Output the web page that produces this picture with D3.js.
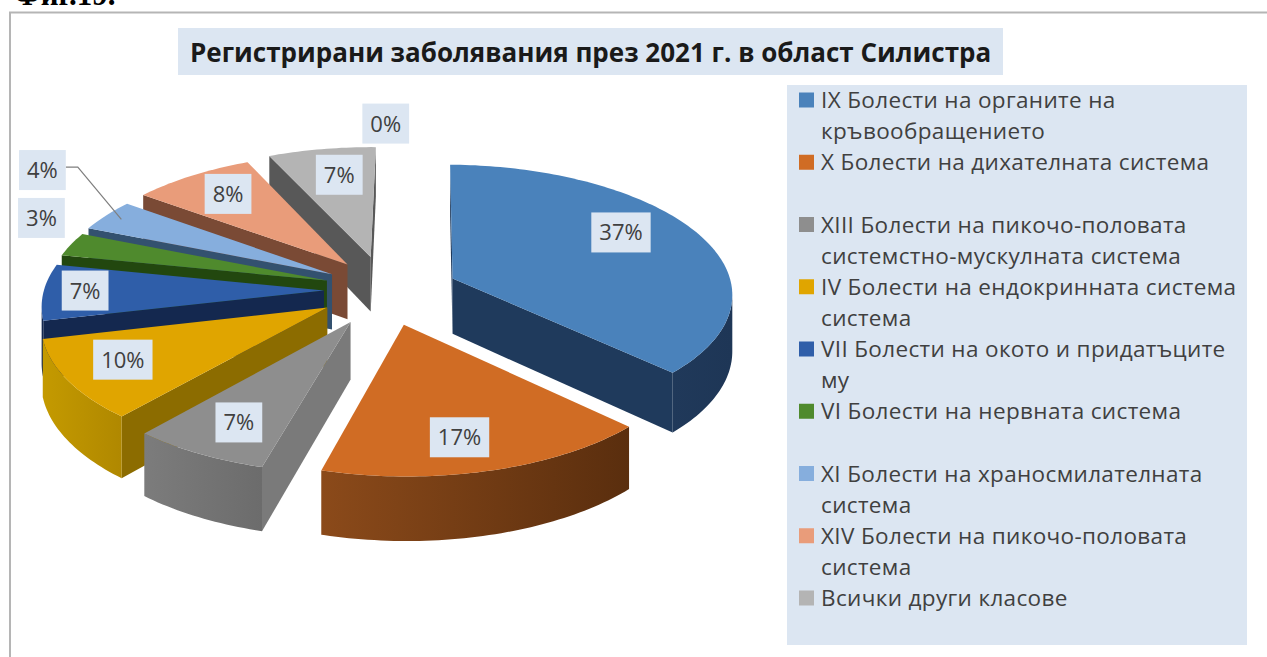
<!DOCTYPE html>
<html lang="bg">
<head>
<meta charset="utf-8">
<script src="https://cdn.jsdelivr.net/npm/d3@7"></script>
<style>
  html, body { margin: 0; padding: 0; background: #fff; overflow: hidden; }
  svg { display: block; }
  text { font-family: "Open Sans", "Noto Sans", sans-serif; }
</style>
</head>
<body>
<svg id="chart" width="1267" height="657"></svg>
<script>
// Disease classes and their share of registrations, in percent
const percents = [37, 17, 7, 10, 7, 3, 4, 8, 7, 0];
const legendLines = [
  ["IX Болести на органите на", "кръвообращението"],
  ["X Болести на дихателната система", ""],
  ["XIII Болести на пикочо-половата", "системстно-мускулната система"],
  ["IV Болести на ендокринната система", "система"],
  ["VII Болести на окото и придатъците", "му"],
  ["VI Болести на нервната система", ""],
  ["XI Болести на храносмилателната", "система"],
  ["XIV Болести на пикочо-половата", "система"],
  ["Всички други класове"]
];
const figureCaption = "Фиг.19.";
const chartTitle = "Регистрирани заболявания през 2021 г. в област Силистра";

// Face colours for each slice
const topColors = ["#4a82bb", "#d06c24", "#8e8e8e", "#e0a500", "#2f5ea9", "#4f8a2d", "#86aedd", "#e99c7a", "#b4b4b4", "#b4b4b4"];
const rimLeft = ["#20395a", "#8b4a1a", "#7c7c7c", "#c49a00", "#14284f", "#22470f", "#33516f", "#7a4a35", "#585858", "#585858"];
const rimRight = ["#1e3656", "#5a2e0e", "#6c6c6c", "#b08800", "#14284f", "#22470f", "#33516f", "#7a4a35", "#585858", "#585858"];
const wallColors = ["#1f3a5c", "#713a12", "#7a7a7a", "#8c6c00", "#14284f", "#22470f", "#33516f", "#7a4a35", "#585858", "#585858"];

// How far each slice is pulled out of the pie, sideways and in depth
const pullSide = [0.283, 0.316, 0.218, 0.217, 0.2, 0.2, 0.2, 0.19, 0.17, 0.1];
const pullDepth = [0.24, 0.273, 0.276, 0.26, 0.25, 0.25, 0.25, 0.26, 0.27, 0.27];

// Label placement: fraction of the radius plus a fine nudge in pixels
const labelRadius = [0.62, 0.62, 0.62, 0.62, 0.62, 0.62, 0.62, 0.62, 0.62, 1.0];
const labelNudge = [[15,-17],[4,26],[-21,22],[-47,8],[-65,-1],[-125,-40],[-147,-67],[-20,-14],[0,-13],[1,-23]];

const svg = d3.select("#chart");
const defs = svg.append("defs");

// Chart frame
svg.append("path").attr("d", "M10,657V12.5H1267").attr("fill", "none").attr("stroke", "#b5b5b5").attr("stroke-width", 2);
svg.append("text").attr("x", 14).attr("y", 5).attr("font-size", 31).attr("font-weight", 700)
  .style("font-family", "'Liberation Serif', serif").attr("fill", "#000").text(figureCaption);

// Title with its tinted plate
svg.append("rect").attr("x", 178).attr("y", 28).attr("width", 825).attr("height", 47).attr("fill", "#dce6f2");
svg.append("text").attr("x", 190).attr("y", 62).attr("font-size", 26).attr("font-weight", 700)
  .attr("fill", "#1a1a1a").text(chartTitle);

// Perspective projection of the pie plane; Z runs 0 (top) to 1 (base)
const center = [380, 290], radiusX = 280, radiusY = 128, lens = 0.105, thickness = 56;
function project(X, Y, Z) {
  const s = 1 / (1 - lens * Y);
  return [center[0] + radiusX * X * s, center[1] + radiusY * Y * s + thickness * Z * s];
}

const firstAngle = 1 * Math.PI / 180;
const arcs = d3.pie().sort(null).startAngle(firstAngle).endAngle(firstAngle + 2 * Math.PI).value(d => d)(percents);
const slices = arcs.map((a, i) => {
  const mid = (a.startAngle + a.endAngle) / 2;
  const ex = pullSide[i] * Math.sin(mid), ey = -pullDepth[i] * Math.cos(mid);
  const at = (angle, r, Z) => project(ex + r * Math.sin(angle), ey - r * Math.cos(angle), Z);
  return { a, i, mid, at };
});

const polygon = d3.line();
const pieLayer = svg.append("g");
const painted = slices.filter(s => s.a.endAngle > s.a.startAngle)
  .sort((p, q) => Math.cos(q.mid) - Math.cos(p.mid));

painted.forEach(s => {
  const { a, i, at } = s;
  const angles = d3.range(a.startAngle, a.endAngle, 0.02).concat(a.endAngle);
  const g = pieLayer.append("g");
  const apexTop = at(0, 0, 0), apexBase = at(0, 0, 1);

  // Radial walls, kept only when they turn towards the viewer
  const startTop = at(a.startAngle, 1, 0), endTop = at(a.endAngle, 1, 0);
  if (endTop[0] > apexTop[0]) {
    g.append("path").attr("d", polygon([endTop, apexTop, apexBase, at(a.endAngle, 1, 1)]) + "Z").attr("fill", wallColors[i]);
  }
  if (startTop[0] < apexTop[0]) {
    g.append("path").attr("d", polygon([apexTop, startTop, at(a.startAngle, 1, 1), apexBase]) + "Z").attr("fill", wallColors[i]);
  }

  // Outer rim: only the stretch facing the viewer, shaded left to right
  const facing = angles.filter((t, k) => {
    const next = angles[k + 1], prev = angles[k - 1];
    if (next !== undefined && at(next, 1, 0)[0] < at(t, 1, 0)[0]) return true;
    return prev !== undefined && at(t, 1, 0)[0] < at(prev, 1, 0)[0];
  });
  if (facing.length > 1) {
    const upper = facing.map(t => at(t, 1, 0));
    const lower = facing.map(t => at(t, 1, 1)).reverse();
    const id = "rim" + i;
    const gradient = defs.append("linearGradient").attr("id", id).attr("gradientUnits", "userSpaceOnUse")
      .attr("x1", d3.min(upper, d => d[0])).attr("x2", d3.max(upper, d => d[0])).attr("y1", 0).attr("y2", 0);
    gradient.append("stop").attr("offset", 0).attr("stop-color", rimLeft[i]);
    gradient.append("stop").attr("offset", 1).attr("stop-color", rimRight[i]);
    g.append("path").attr("d", polygon([...upper, ...lower]) + "Z").attr("fill", `url(#${id})`);
  }

  // Top face
  const rimTop = angles.map(t => at(t, 1, 0));
  g.append("path").attr("d", polygon([apexTop, ...rimTop]) + "Z").attr("fill", topColors[i]);
});

// Leader from the 4% label to its slice
const leaderIndex = 6;
const labelLayer = svg.append("g");

// Percentage labels on tinted plates
slices.forEach(s => {
  const { i, mid, at } = s;
  const p = at(mid, labelRadius[i], 0);
  const x = p[0] + labelNudge[i][0], y = p[1] + labelNudge[i][1];
  const g = labelLayer.append("g");
  const plate = g.append("rect").attr("fill", "#dce6f2");
  const t = g.append("text").attr("x", x).attr("y", y + 8).attr("text-anchor", "middle")
    .attr("font-size", 22).attr("fill", "#404040").text(percents[i] + "%");
  const w = t.node().getComputedTextLength() + 16;
  plate.attr("x", x - w / 2).attr("y", y - 20).attr("width", w).attr("height", 40);
  if (i === leaderIndex) {
    const tip = at(mid, 0.93, 0);
    labelLayer.insert("path", ":first-child")
      .attr("d", polygon([[x + w / 2, y - 3], [x + w / 2 + 12, y - 3], tip]))
      .attr("fill", "none").attr("stroke", "#7f7f7f").attr("stroke-width", 1.2);
  }
});

// Legend panel: wrapped entries on an even line grid, some followed by a spare line
const legend = svg.append("g");
const legendLeft = 799, legendTextLeft = 821;
legend.append("rect").attr("x", 787).attr("y", 85).attr("width", 460).attr("height", 560).attr("fill", "#dce6f2");
const lineCount = d3.sum(legendLines, d => d.length);
const lineY = d3.scaleLinear().domain([0, lineCount - 1]).range([100, 598]);
let row = 0;
legendLines.forEach((lines, i) => {
  legend.append("rect").attr("x", legendLeft).attr("y", lineY(row) - 7.5).attr("width", 15).attr("height", 15).attr("fill", topColors[i]);
  lines.forEach(line => {
    if (line) {
      legend.append("text").attr("x", legendTextLeft).attr("y", lineY(row) + 8)
        .attr("font-size", 22.5).attr("letter-spacing", 0.35).attr("fill", "#404040").text(line);
    }
    row++;
  });
});
</script>
</body>
</html>
